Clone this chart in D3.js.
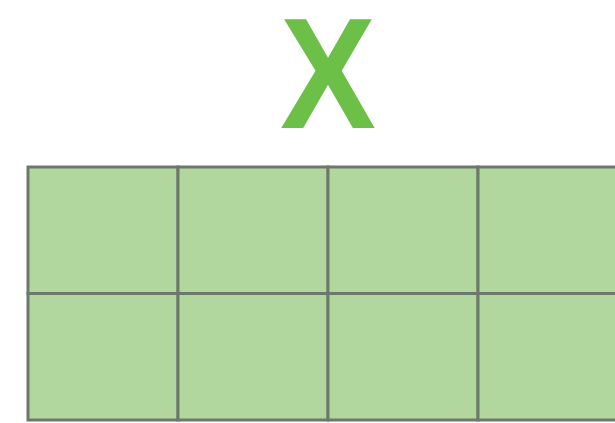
<!DOCTYPE html>
<html><head><meta charset="utf-8">
<script src="https://cdn.jsdelivr.net/npm/d3@7"></script>
<style>html,body{margin:0;padding:0;background:#fff;overflow:hidden}</style>
</head><body>
<svg id="c" width="615" height="423"></svg>
<script>
const title = "X";
const columns = ["c1","c2","c3","c4"];
const rows = ["r1","r2"];
const cells = rows.flatMap(r => columns.map(c => ({r, c})));

const svg = d3.select("#c");
const x = d3.scaleBand().domain(columns).range([28, 628]);
const y = d3.scaleBand().domain(rows).range([167, 420]);

svg.append("g").selectAll("rect").data(cells).join("rect")
  .attr("x", d => x(d.c)).attr("y", d => y(d.r))
  .attr("width", x.bandwidth()).attr("height", y.bandwidth())
  .attr("fill", "#b2d79e").attr("stroke", "#6c786c").attr("stroke-width", 3);

const cx = (x.range()[0] + x.range()[1]) / 2;
svg.append("text").text(title)
  .attr("transform", `translate(${cx},128) scale(0.91,1)`)
  .attr("text-anchor", "middle")
  .attr("font-family", "Liberation Sans, Arial, sans-serif")
  .attr("font-weight", "bold").attr("font-size", 158)
  .attr("fill", "#6cbf47");
</script>
</body></html>
